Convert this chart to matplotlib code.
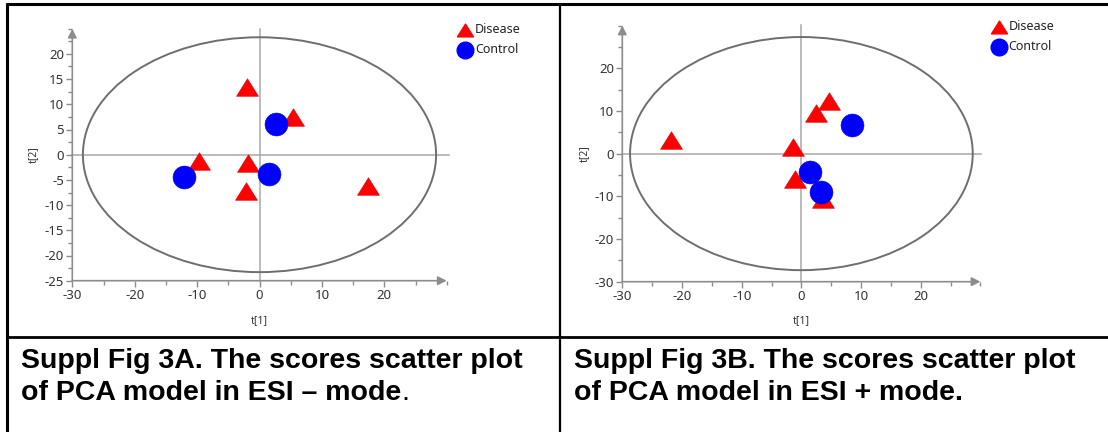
import matplotlib
matplotlib.use("Agg")
import matplotlib.pyplot as plt
from matplotlib.patches import Ellipse
from matplotlib.path import Path
from matplotlib.ticker import MultipleLocator

plt.rcParams["axes.unicode_minus"] = False

# PCA scores, ESI negative mode (panel A)
a_disease_t1 = [-2.0, 5.3, -9.7, -1.8, -2.1, 17.4]
a_disease_t2 = [13.5, 7.5, -1.2, -1.7, -7.3, -6.2]
a_control_t1 = [2.7, -12.1, 1.5]
a_control_t2 = [6.0, -4.5, -3.8]

# PCA scores, ESI positive mode (panel B)
b_disease_t1 = [-21.9, -1.4, 2.4, 4.6, -1.1, 3.7]
b_disease_t2 = [3.2, 1.6, 9.5, 12.4, -6.0, -10.6]
b_control_t1 = [8.4, 1.4, 3.2]
b_control_t2 = [6.8, -4.4, -9.1]

# Hotelling T2 ellipse semi-axes (t1, t2)
a_ellipse = (28.3, 23.3)
b_ellipse = (28.7, 27.3)

a_xticks = [-30, -20, -10, 0, 10, 20]
a_yticks = [-25, -20, -15, -10, -5, 0, 5, 10, 15, 20]
b_xticks = [-30, -20, -10, 0, 10, 20]
b_yticks = [-30, -20, -10, 0, 10, 20]

captions = [
    ("Suppl Fig 3A. The scores scatter plot", "of PCA model in ESI \u2013 mode", "."),
    ("Suppl Fig 3B. The scores scatter plot", "of PCA model in ESI + mode.", ""),
]

W, H = 1108, 432
fig = plt.figure(figsize=(W / 100, H / 100), dpi=100)
fig.patch.set_facecolor("white")

TICK_FONT = ["Noto Sans", "DejaVu Sans"]
RED = "#ff0000"
BLUE = "#0000ff"
AXIS_GRAY = "#8c8c8c"
tri = Path([(-1, -0.8), (1, -0.8), (0, 0.8), (-1, -0.8)],
           [Path.MOVETO, Path.LINETO, Path.LINETO, Path.CLOSEPOLY])


def px_axes(left, top, width, height):
    return fig.add_axes([left / W, 1 - (top + height) / H, width / W, height / H])


def score_panel(ax, xlim, ylim, xticks, yticks, yminor, ell,
                d1, d2, c1, c2, cross_top, cross_right):
    ax.set_xlim(*xlim)
    ax.set_ylim(*ylim)
    for s in ax.spines.values():
        s.set_visible(False)
    ax.patch.set_visible(False)
    # axis lines with arrow heads
    arrow = dict(arrowstyle="-|>", color=AXIS_GRAY, lw=1.2,
                 mutation_scale=13, shrinkA=0, shrinkB=0)
    ax.annotate("", xy=(xlim[1], ylim[0]), xytext=(xlim[0], ylim[0]),
                arrowprops=arrow, annotation_clip=False)
    ax.annotate("", xy=(xlim[0], ylim[1]), xytext=(xlim[0], ylim[0]),
                arrowprops=arrow, annotation_clip=False)
    # origin cross-hair
    ax.plot([0, 0], [ylim[0], cross_top], color="#a8a8a8", lw=1.1,
            clip_on=False, zorder=1)
    ax.plot([xlim[0], cross_right], [0, 0], color="#a8a8a8", lw=1.1,
            clip_on=False, zorder=1)
    ax.add_patch(Ellipse((0, 0), 2 * ell[0], 2 * ell[1], fill=False,
                         edgecolor="#6e6e6e", lw=1.4, zorder=2))
    ax.scatter(d1, d2, marker=tri, s=15.8 ** 2, color=RED,
               edgecolors="#e00000", linewidths=0.4, zorder=3)
    ax.scatter(c1, c2, marker="o", s=16.5 ** 2, color=BLUE,
               edgecolors="#0000e0", linewidths=0.4, zorder=4)
    ax.set_xticks(xticks)
    ax.set_yticks(yticks)
    ax.xaxis.set_minor_locator(MultipleLocator(5))
    ax.yaxis.set_minor_locator(MultipleLocator(yminor))
    ax.tick_params(which="both", direction="out", color=AXIS_GRAY, width=1)
    ax.tick_params(which="major", length=4, pad=2, labelsize=9.5,
                   labelcolor="#333333")
    ax.tick_params(which="minor", length=3)
    for lab in ax.get_xticklabels() + ax.get_yticklabels():
        lab.set_family(TICK_FONT)
    ax.set_xlabel("t[1]", fontsize=7.5, color="#333333", family=TICK_FONT)
    ax.set_ylabel("t[2]", fontsize=7.5, color="#333333", family=TICK_FONT)


# Panel A
axA = px_axes(72.3, 28.7, 60 * 6.24, 50 * 5.04)
score_panel(axA, (-30, 30), (-25, 25), a_xticks, a_yticks, 2.5, a_ellipse,
            a_disease_t1, a_disease_t2, a_control_t1, a_control_t2,
            24.9, 30.3)
axA.xaxis.set_label_coords(0.5, -0.135)
axA.yaxis.set_label_coords(-0.088, 0.5)

# Panel B
axB = px_axes(622.3, 25.5, 60 * 5.97, 60 * 4.27)
score_panel(axB, (-30, 30), (-30, 30), b_xticks, b_yticks, 5, b_ellipse,
            b_disease_t1, b_disease_t2, b_control_t1, b_control_t2,
            30.1, 30.1)
axB.xaxis.set_label_coords(0.5, -0.13)
axB.yaxis.set_label_coords(-0.09, 0.5)

# Page overlay: table rules, legends and captions in pixel units
ov = fig.add_axes([0, 0, 1, 1])
ov.set_xlim(0, W)
ov.set_ylim(H, 0)
ov.axis("off")
ov.patch.set_visible(False)

ov.plot([7, 7], [3, H], color="black", lw=2.2, solid_capstyle="butt")
ov.plot([5.9, W], [4, 4], color="black", lw=2.2, solid_capstyle="butt")
ov.plot([560, 560], [4, H], color="black", lw=1.6, solid_capstyle="butt")
ov.plot([7, W], [337, 337], color="black", lw=2.0, solid_capstyle="butt")

for lx, ly in [(465, 29.5), (998.5, 27)]:
    ov.scatter([lx], [ly], marker=tri, s=11.5 ** 2, color=RED, zorder=5)
    ov.scatter([lx], [ly + 20], marker="o", s=12 ** 2, color=BLUE, zorder=5)
    ov.text(lx + 10, ly, "Disease", fontsize=9, family=TICK_FONT,
            color="#222222", va="center", ha="left")
    ov.text(lx + 10, ly + 20, "Control", fontsize=9, family=TICK_FONT,
            color="#222222", va="center", ha="left")

CAP_FONT = ["Liberation Sans", "DejaVu Sans"]
CAP_SIZE = 20.5
for x0, (line1, line2, tail) in zip([21, 574], captions):
    ov.text(x0, 368.5, line1, fontsize=CAP_SIZE, fontweight="bold",
            family=CAP_FONT, va="baseline", ha="left", color="black")
    t2 = ov.text(x0, 400, line2, fontsize=CAP_SIZE, fontweight="bold",
                 family=CAP_FONT, va="baseline", ha="left", color="black")
    if tail:
        ov.annotate(tail, xy=(1, 0), xycoords=t2, va="bottom", ha="left",
                    fontsize=CAP_SIZE, family=CAP_FONT, color="black")

fig.savefig("out.png", dpi=100, facecolor="white")
